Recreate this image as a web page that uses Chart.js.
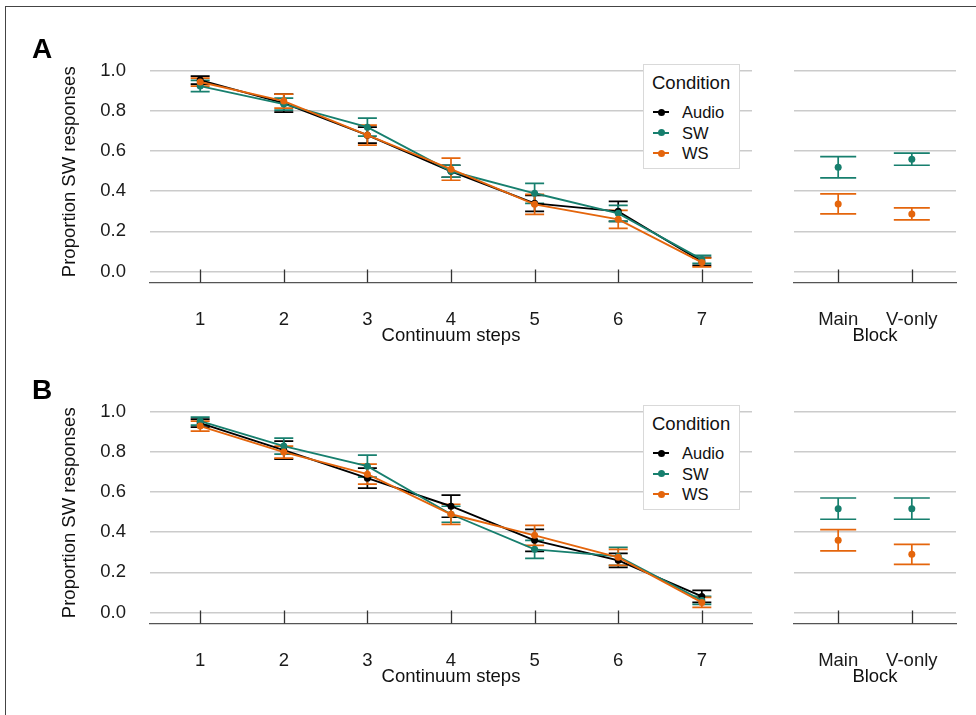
<!DOCTYPE html>
<html>
<head>
<meta charset="utf-8">
<script src="https://cdn.jsdelivr.net/npm/chart.js@4.4.0/dist/chart.umd.min.js"></script>
<style>
  body { margin: 0; background: #fff; width: 976px; height: 715px; overflow: hidden; position: relative;
         font-family: 'Liberation Sans', Arial, sans-serif; color: #111; }
  .frame { position: absolute; left: 5px; top: 6px; width: 1100px; height: 1100px; border: 1.5px solid #444; }
  .panel { position: absolute; left: 0; width: 976px; height: 350px; }
  .panel canvas { position: absolute; top: 0; }
  .tag { position: absolute; left: 32px; top: 35px; font-size: 28px; font-weight: bold; line-height: 28px; color: #000; }
  .legend { position: absolute; left: 643px; top: 64px; width: 95px; height: 103px; border: 1px solid #d9d9d9; background: #fff; }
  .legend .ttl { position: absolute; left: 8px; top: 8px; font-size: 18.5px; line-height: 20px; }
  .legend .item { position: absolute; left: 0; height: 20px; width: 95px; }
  .legend .item span.txt { position: absolute; left: 38px; top: 0; font-size: 16.5px; line-height: 20px; }
  .legend .item span.ln { position: absolute; left: 9px; top: 9px; width: 16px; height: 2px; }
  .legend .item span.dot { position: absolute; left: 13.5px; top: 6.5px; width: 7px; height: 7px; border-radius: 50%; }
</style>
</head>
<body>
<div class="frame"></div>

<div class="panel" id="panelA" style="top:0px">
  <canvas id="lineA" width="760" height="350" style="left:0px"></canvas>
  <canvas id="blockA" width="216" height="350" style="left:760px"></canvas>
  <div class="tag">A</div>
</div>

<div class="panel" id="panelB" style="top:341px">
  <canvas id="lineB" width="760" height="350" style="left:0px"></canvas>
  <canvas id="blockB" width="216" height="350" style="left:760px"></canvas>
  <div class="tag">B</div>
</div>

<script>
// data
const steps = [1, 2, 3, 4, 5, 6, 7];
const blocks = ['Main', 'V-only'];
const yTicks = [0, 0.2, 0.4, 0.6, 0.8, 1.0];
const conditions = ['Audio', 'SW', 'WS'];
const colors = ['#000000', '#177f6e', '#e4650c'];

// panel A - continuum
const audioA = [0.955, 0.84, 0.68, 0.50, 0.34, 0.30, 0.05];
const audioAErr = [0.02, 0.045, 0.04, 0.03, 0.04, 0.05, 0.02];
const swA = [0.925, 0.835, 0.72, 0.50, 0.39, 0.29, 0.06];
const swAErr = [0.028, 0.03, 0.045, 0.03, 0.05, 0.04, 0.02];
const wsA = [0.945, 0.85, 0.68, 0.51, 0.335, 0.26, 0.045];
const wsAErr = [0.02, 0.035, 0.05, 0.055, 0.05, 0.045, 0.022];
// panel A - block
const swBlockA = [0.52, 0.56];
const swBlockAErr = [0.053, 0.03];
const wsBlockA = [0.337, 0.287];
const wsBlockAErr = [0.05, 0.03];

// panel B - continuum
const audioB = [0.945, 0.81, 0.67, 0.53, 0.36, 0.26, 0.08];
const audioBErr = [0.02, 0.045, 0.05, 0.055, 0.055, 0.035, 0.03];
const swB = [0.955, 0.83, 0.73, 0.49, 0.315, 0.28, 0.06];
const swBErr = [0.02, 0.04, 0.055, 0.04, 0.045, 0.045, 0.02];
const wsB = [0.93, 0.80, 0.69, 0.49, 0.385, 0.275, 0.05];
const wsBErr = [0.025, 0.03, 0.05, 0.05, 0.05, 0.04, 0.025];
// panel B - block
const swBlockB = [0.518, 0.518];
const swBlockBErr = [0.053, 0.053];
const wsBlockB = [0.36, 0.29];
const wsBlockBErr = [0.053, 0.05];

Chart.defaults.font.family = "'Liberation Sans', Arial, sans-serif";
Chart.defaults.font.size = 18.5;
Chart.defaults.color = '#1a1a1a';

// error bars, drawn under the lines
const errorBars = {
  id: 'errorBars',
  beforeDatasetsDraw(chart, args, opts) {
    const ctx = chart.ctx;
    const xs = chart.scales.x, ys = chart.scales.y;
    chart.data.datasets.forEach(ds => {
      ctx.save();
      ctx.strokeStyle = ds.borderColor;
      ctx.lineWidth = 1.7;
      ds.data.forEach((p, i) => {
        const e = ds.errors[i];
        const x = xs.getPixelForValue(p.x);
        const lo = ys.getPixelForValue(p.y - e);
        const hi = ys.getPixelForValue(p.y + e);
        const w = opts.cap;
        ctx.beginPath();
        ctx.moveTo(x, lo); ctx.lineTo(x, hi);
        ctx.moveTo(x - w, lo); ctx.lineTo(x + w, lo);
        ctx.moveTo(x - w, hi); ctx.lineTo(x + w, hi);
        ctx.stroke();
      });
      ctx.restore();
    });
  }
};

// tick marks pointing up from the x axis line
const innerTicks = {
  id: 'innerTicks',
  afterDraw(chart) {
    const ctx = chart.ctx;
    const xs = chart.scales.x;
    const bottom = chart.chartArea.bottom;
    ctx.save();
    ctx.strokeStyle = '#333';
    ctx.lineWidth = 1.3;
    xs.ticks.forEach(t => {
      const x = Math.round(xs.getPixelForValue(t.value)) + 0.5;
      ctx.beginPath();
      ctx.moveTo(x, bottom);
      ctx.lineTo(x, bottom - 13);
      ctx.stroke();
    });
    ctx.restore();
  }
};

function pts(xs, ys) {
  return xs.map((x, i) => ({ x: x, y: ys[i] }));
}

function series(label, color, xs, ys, errs, order, showLine) {
  return {
    label: label,
    data: pts(xs, ys),
    errors: errs,
    borderColor: color,
    backgroundColor: color,
    borderWidth: 1.9,
    pointRadius: 3.5,
    pointBorderWidth: 0,
    pointHoverRadius: 3.5,
    showLine: showLine,
    order: order
  };
}

function makeChart(id, opt) {
  return new Chart(document.getElementById(id), {
    type: 'line',
    data: { datasets: opt.datasets },
    options: {
      responsive: false,
      animation: false,
      events: [],
      layout: { padding: { left: 0, right: opt.padRight, top: 61, bottom: 2.5 } },
      plugins: {
        legend: { display: false },
        tooltip: { enabled: false },
        errorBars: { cap: opt.cap }
      },
      scales: {
        x: {
          type: 'linear',
          min: opt.xMin,
          max: opt.xMax,
          afterBuildTicks: s => { s.ticks = opt.xTicks.map(v => ({ value: v })); },
          afterFit: s => { s.height = 65; },
          grid: { display: false, drawTicks: false },
          border: { display: true, color: '#555', width: 1.3 },
          ticks: { padding: 26, maxRotation: 0, autoSkip: false, callback: opt.xLabel },
          title: { display: true, text: opt.xTitle, color: '#111', padding: { top: 0, bottom: 0 } }
        },
        y: {
          min: -0.055,
          max: 1.05,
          afterBuildTicks: s => { s.ticks = yTicks.map(v => ({ value: v })); },
          afterFit: s => { s.width = opt.yWidth; },
          grid: { color: '#cbcbcb', lineWidth: 1.6, drawTicks: false },
          border: { display: false },
          ticks: { display: opt.yLabels, padding: 24, callback: v => v.toFixed(1) },
          title: { display: opt.yLabels, text: 'Proportion SW responses', color: '#111', padding: { top: 59, bottom: 0 } }
        }
      }
    },
    plugins: [errorBars, innerTicks]
  });
}

function linePanel(id, audio, audioErr, sw, swErr, ws, wsErr) {
  makeChart(id, {
    datasets: [
      series('Audio', colors[0], steps, audio, audioErr, 2, true),
      series('SW', colors[1], steps, sw, swErr, 1, true),
      series('WS', colors[2], steps, ws, wsErr, 0, true)
    ],
    xMin: 0.4, xMax: 7.6, xTicks: steps, xLabel: v => v, xTitle: 'Continuum steps',
    padRight: 8, yWidth: 150, yLabels: true, cap: 9.5
  });
}

function blockPanel(id, sw, swErr, ws, wsErr) {
  const idx = blocks.map((b, i) => i);
  makeChart(id, {
    datasets: [
      series('SW', colors[1], idx, sw, swErr, 1, false),
      series('WS', colors[2], idx, ws, wsErr, 0, false)
    ],
    xMin: -0.6, xMax: 1.6, xTicks: idx, xLabel: v => blocks[v], xTitle: 'Block',
    padRight: 20, yWidth: 34, yLabels: false, cap: 18
  });
}

function legend(panelId) {
  const box = document.createElement('div');
  box.className = 'legend';
  const ttl = document.createElement('div');
  ttl.className = 'ttl';
  ttl.textContent = 'Condition';
  box.appendChild(ttl);
  const tops = [37, 57.5, 78];
  conditions.forEach((c, i) => {
    const it = document.createElement('div');
    it.className = 'item';
    it.style.top = tops[i] + 'px';
    it.innerHTML = '<span class="ln" style="background:' + colors[i] + '"></span>' +
      '<span class="dot" style="background:' + colors[i] + '"></span>' +
      '<span class="txt">' + c + '</span>';
    box.appendChild(it);
  });
  document.getElementById(panelId).appendChild(box);
}

linePanel('lineA', audioA, audioAErr, swA, swAErr, wsA, wsAErr);
blockPanel('blockA', swBlockA, swBlockAErr, wsBlockA, wsBlockAErr);
linePanel('lineB', audioB, audioBErr, swB, swBErr, wsB, wsBErr);
blockPanel('blockB', swBlockB, swBlockBErr, wsBlockB, wsBlockBErr);
legend('panelA');
legend('panelB');
</script>
</body>
</html>
